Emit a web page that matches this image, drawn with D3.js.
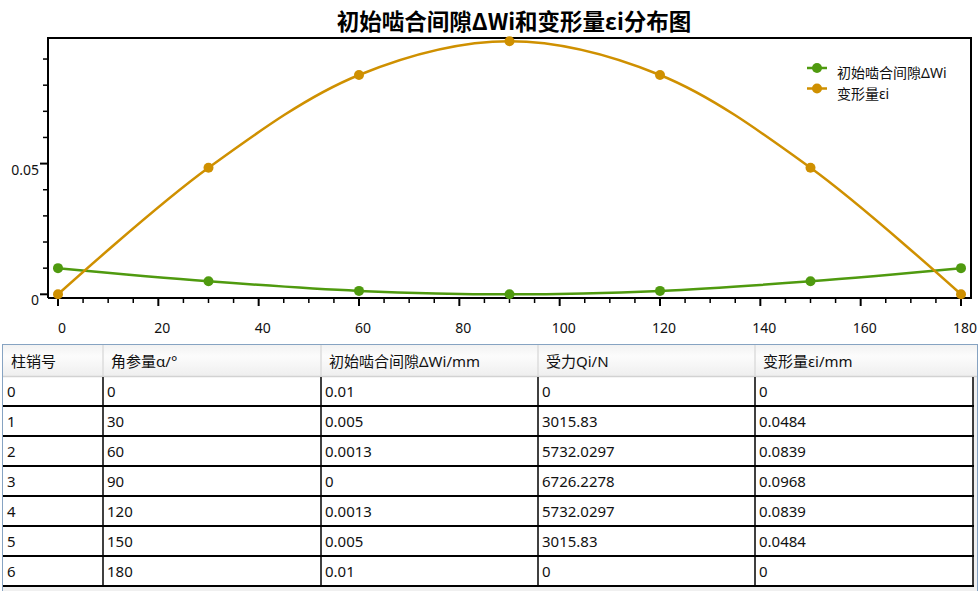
<!DOCTYPE html>
<html>
<head>
<meta charset="utf-8">
<script src="https://cdn.jsdelivr.net/npm/d3@7"></script>
<style>
  html, body { margin: 0; padding: 0; background: #fff; overflow: hidden; }
  svg { display: block; }
  .axis text { font-family: "Noto Sans", "Open Sans", sans-serif; font-size: 14px; fill: #111; }
  .tbl text { font-family: "Noto Sans", "Noto Sans CJK SC", sans-serif; font-size: 15px; fill: #111; }
</style>
</head>
<body>
<div id="viz"></div>
<script>
// 数据
const angles  = [0, 30, 60, 90, 120, 150, 180];
const gaps    = [0.01, 0.005, 0.0013, 0, 0.0013, 0.005, 0.01];
const forces  = [0, 3015.83, 5732.0297, 6726.2278, 5732.0297, 3015.83, 0];
const deforms = [0, 0.0484, 0.0839, 0.0968, 0.0839, 0.0484, 0];
const pinIds  = [0, 1, 2, 3, 4, 5, 6];

const xTicks = [0, 20, 40, 60, 80, 100, 120, 140, 160, 180];
const yTicks = [0, 0.05];
const headers = ["柱销号", "角参量α/°", "初始啮合间隙ΔWi/mm", "受力Qi/N", "变形量εi/mm"];
const seriesNames = ["初始啮合间隙ΔWi", "变形量εi"];
const colors = ["#4f9a0f", "#cf9000"];

(function () {
  const W = 980, H = 591;
  const svg = d3.select("#viz").append("svg").attr("width", W).attr("height", H);

  // 1. 绘图区
  const box = { left: 48, top: 38, right: 971, bottom: 298 };
  const x = d3.scaleLinear().domain([0, 180]).range([58, 961]);
  const y = d3.scaleLinear().domain([0, 0.05]).range([294.3, 163.6]);

  // 标题
  svg.append("text")
    .attr("x", 514).attr("y", 30)
    .attr("text-anchor", "middle")
    .style("font-family", '"Noto Sans CJK SC", sans-serif')
    .style("font-weight", "bold")
    .style("font-size", "22.5px")
    .attr("fill", "#000")
    .text("初始啮合间隙ΔWi和变形量εi分布图");

  // 边框
  svg.append("path")
    .attr("d", `M${box.left},${box.bottom}V${box.top}H${box.right}V${box.bottom}H${box.left}`)
    .attr("fill", "none").attr("stroke", "#000").attr("stroke-width", 2);

  // X 轴
  const gx = svg.append("g").attr("class", "axis");
  gx.selectAll("line.minor").data(d3.range(0, 181, 5)).enter().append("line")
    .attr("x1", d => x(d)).attr("x2", d => x(d))
    .attr("y1", box.bottom).attr("y2", d => box.bottom + (d % 20 === 0 ? 8 : 5))
    .attr("stroke", "#000").attr("stroke-width", d => d % 20 === 0 ? 2 : 1.5);
  gx.selectAll("text").data(xTicks).enter().append("text")
    .attr("x", d => x(d) + 4).attr("y", 333)
    .attr("text-anchor", "middle")
    .text(d => d);

  // Y 轴
  const gy = svg.append("g").attr("class", "axis");
  const yMinor = d3.range(0, 10).map(i => i * 0.01);
  gy.selectAll("line").data(yMinor).enter().append("line")
    .attr("x1", (d, i) => box.left - (i % 5 === 0 ? 8 : 5)).attr("x2", box.left)
    .attr("y1", d => y(d)).attr("y2", d => y(d))
    .attr("stroke", "#000").attr("stroke-width", (d, i) => i % 5 === 0 ? 2 : 1.5);
  gy.selectAll("text").data(yTicks).enter().append("text")
    .attr("x", 39).attr("y", d => y(d) + 11)
    .attr("text-anchor", "end")
    .text(d => d === 0 ? "0" : d.toFixed(2));

  // 曲线
  const series = [gaps, deforms];
  const line = d3.line()
    .x((d, i) => x(angles[i]))
    .y(d => y(d))
    .curve(d3.curveCatmullRom.alpha(0.5));
  series.forEach((vals, s) => {
    svg.append("path")
      .datum(vals)
      .attr("fill", "none")
      .attr("stroke", colors[s])
      .attr("stroke-width", 2.5)
      .attr("d", line);
    svg.append("g").selectAll("circle").data(vals).enter().append("circle")
      .attr("cx", (d, i) => x(angles[i]))
      .attr("cy", d => y(d))
      .attr("r", 5)
      .attr("fill", colors[s]);
  });

  // 图例
  const lg = svg.append("g");
  seriesNames.forEach((name, i) => {
    const ly = 68 + i * 20.5;
    lg.append("line").attr("x1", 807).attr("x2", 827).attr("y1", ly).attr("y2", ly)
      .attr("stroke", colors[i]).attr("stroke-width", 2.5);
    lg.append("circle").attr("cx", 817).attr("cy", ly).attr("r", 5).attr("fill", colors[i]);
    lg.append("text").attr("x", 837).attr("y", ly + 10)
      .style("font-family", '"Noto Sans", "Noto Sans CJK SC", sans-serif')
      .style("font-size", "14px")
      .attr("fill", "#111")
      .text(name);
  });

  // 2. 表格
  const tbl = svg.append("g").attr("class", "tbl");
  const colX = [3, 103, 321, 538, 755, 973];
  const headTop = 345, headBot = 377, rowH = 30;
  const rows = pinIds.map((id, i) => [id, angles[i], gaps[i], forces[i], deforms[i]]);

  const defs = svg.append("defs");
  const grad = defs.append("linearGradient").attr("id", "hdr").attr("x1", 0).attr("x2", 0).attr("y1", 0).attr("y2", 1);
  grad.append("stop").attr("offset", "0%").attr("stop-color", "#f2f2f2");
  grad.append("stop").attr("offset", "35%").attr("stop-color", "#fcfcfc");
  grad.append("stop").attr("offset", "100%").attr("stop-color", "#eeeeee");

  // 背景
  tbl.append("rect").attr("x", 2).attr("y", 344).attr("width", 976).attr("height", 250).attr("fill", "#f0f0f0");
  tbl.append("rect").attr("x", 3).attr("y", headBot).attr("width", 970).attr("height", rowH * rows.length)
    .attr("fill", "#fff");
  tbl.append("rect").attr("x", 3).attr("y", headTop).attr("width", 974).attr("height", headBot - headTop)
    .attr("fill", "url(#hdr)");

  // 表头
  tbl.selectAll("line.hsep").data(colX.slice(1, 5)).enter().append("line")
    .attr("x1", d => d).attr("x2", d => d).attr("y1", headTop).attr("y2", headBot)
    .attr("stroke", "#dcdcdc").attr("stroke-width", 1.5);
  tbl.append("line").attr("x1", 3).attr("x2", 977).attr("y1", headBot - 0.5).attr("y2", headBot - 0.5)
    .attr("stroke", "#d2d2d2").attr("stroke-width", 1.5);
  tbl.selectAll("text.h").data(headers).enter().append("text")
    .attr("x", (d, i) => colX[i] + 8).attr("y", 367)
    .text(d => d);

  // 数据行
  const rg = tbl.selectAll("g.row").data(rows).enter().append("g")
    .attr("transform", (d, i) => `translate(0,${headBot + i * rowH})`);
  rg.selectAll("text").data(d => d).enter().append("text")
    .attr("x", (d, i) => colX[i] + 4).attr("y", 20)
    .text(d => d);
  rg.append("line").attr("x1", 3).attr("x2", 974).attr("y1", rowH - 1).attr("y2", rowH - 1)
    .attr("stroke", "#000").attr("stroke-width", 2);
  tbl.selectAll("line.vsep").data(colX.slice(1)).enter().append("line")
    .attr("x1", d => d).attr("x2", d => d).attr("y1", headBot).attr("y2", headBot + rowH * rows.length)
    .attr("stroke", "#000").attr("stroke-width", 1.5);

  // 外框
  tbl.append("rect").attr("x", 2.5).attr("y", 344.5).attr("width", 975).attr("height", 250)
    .attr("fill", "none").attr("stroke", "#86a3c2").attr("stroke-width", 1);
})();
</script>
</body>
</html>
